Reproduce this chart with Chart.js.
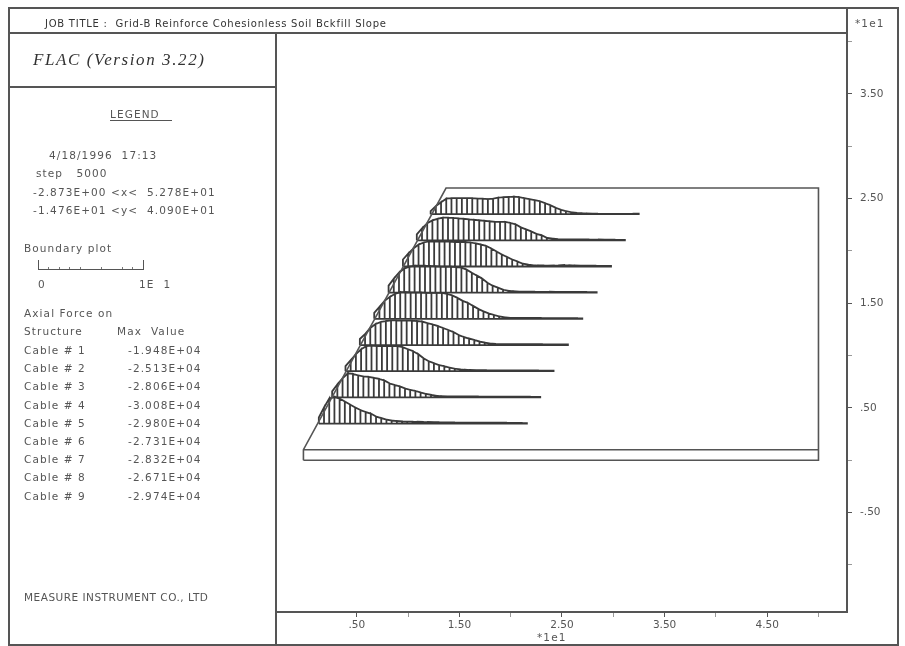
<!DOCTYPE html>
<html>
<head>
<meta charset="utf-8">
<title>FLAC axial force on cables</title>
<script src="https://cdn.jsdelivr.net/npm/chart.js@4/dist/chart.umd.min.js"></script>
<style>
    html, body { margin: 0; padding: 0; background: #fff; }
    #page { position: relative; width: 905px; height: 646px; overflow: hidden; filter: blur(0.5px); }
    #chart { position: absolute; left: 0; top: 0; }
    .rule { position: absolute; background: #555; }
    .txt {
        position: absolute; white-space: pre; color: #555;
        font: 10.5px "DejaVu Sans", sans-serif; letter-spacing: 1.1px; line-height: 12px;
    }
    #title { font-size: 10px; letter-spacing: 0.75px; color: #333; }
    #measure { letter-spacing: 0.5px; }
    #flac { font: italic 17px "Liberation Serif", serif; letter-spacing: 1.6px; color: #333; line-height: 20px; }
    #scalebar {
        position: absolute; left: 38px; top: 260px; width: 106px; height: 10px;
        border-left: 1px solid #555; border-right: 1px solid #555; border-bottom: 1px solid #555;
        box-sizing: border-box;
        background: repeating-linear-gradient(90deg, transparent 0, transparent 9.5px, #777 9.5px, #777 10.5px) 0 7px / 100% 3px no-repeat;
    }
</style>
</head>
<body>
<div id="page">
    <canvas id="chart" width="905" height="646"></canvas>
    <div class="rule" style="left:8px;top:7px;width:890px;height:2px"></div>
    <div class="rule" style="left:8px;top:7px;width:2px;height:639px"></div>
    <div class="rule" style="left:897px;top:7px;width:2px;height:639px"></div>
    <div class="rule" style="left:8px;top:644px;width:890px;height:2px"></div>
    <div class="rule" style="left:8px;top:31.5px;width:839px;height:2px"></div>
    <div class="rule" style="left:8px;top:86px;width:268px;height:2px"></div>
    <div class="rule" style="left:275px;top:32px;width:2px;height:614px"></div>
    <div class="rule" style="left:846px;top:7px;width:2px;height:26px"></div>
    <div id="scalebar"></div>
    <div id="panel"></div>
</div>

<script>
const xTickValues = [0.5, 1, 1.5, 2, 2.5, 3, 3.5, 4, 4.5, 5];
const xTickLabels = ['.50', '', '1.50', '', '2.50', '', '3.50', '', '4.50', ''];
const yTickValues = [-1, -0.5, 0, 0.5, 1, 1.5, 2, 2.5, 3, 3.5, 4];
const yTickLabels = ['', '-.50', '', '.50', '', '1.50', '', '2.50', '', '3.50', ''];

// model outline, axis units (*1e1)
const boundaryX = [-0.02, 5.0, 5.0, 1.37, -0.02, -0.02];
const boundaryY = [0, 0, 2.6, 2.6, 0.1, 0];
const layerX = [-0.02, 5.0];
const layerY = [0.1, 0.1];

// cables, top one is #1
const cableNames = ['Cable # 1', 'Cable # 2', 'Cable # 3', 'Cable # 4', 'Cable # 5', 'Cable # 6', 'Cable # 7', 'Cable # 8', 'Cable # 9'];
const cableMax = ['-1.948E+04', '-2.513E+04', '-2.806E+04', '-3.008E+04', '-2.980E+04', '-2.731E+04', '-2.832E+04', '-2.671E+04', '-2.974E+04'];
const cableY = [2.35, 2.1, 1.85, 1.6, 1.35, 1.1, 0.85, 0.6, 0.35];
const cableStartX = [1.22, 1.085, 0.95, 0.81, 0.67, 0.53, 0.39, 0.26, 0.13];
const nodeSpacing = 0.0507;
const forceScale = 0.086;   // axis units per 1E+04

// axial force at each node, 1E+04
const force1 = [.33,.89,1.33,1.72,1.78,1.78,1.78,1.78,1.78,1.72,
    1.72,1.67,1.72,1.83,1.89,1.91,1.948,1.89,1.78,1.67,
    1.56,1.44,1.22,1.0,.72,.5,.33,.22,.14,.11,
    .07,.05,.05,.04,.04,.03,.03,.03,.04,.05,.05];
const force2 = [.67,1.33,1.89,2.22,2.39,2.513,2.513,2.49,2.44,2.39,
    2.33,2.28,2.22,2.17,2.11,2.06,2.06,2.06,1.94,1.78,
    1.44,1.22,1.0,.72,.56,.28,.2,.14,.11,.11,
    .11,.1,.1,.1,.09,.09,.08,.08,.07,.06,.05];
const force3 = [.78,1.44,2.0,2.44,2.67,2.78,2.806,2.78,2.78,2.76,
    2.72,2.72,2.72,2.67,2.56,2.44,2.28,2.0,1.67,1.33,
    1.06,.78,.56,.33,.22,.14,.11,.11,.1,.11,
    .13,.16,.14,.11,.1,.1,.09,.09,.08,.08,.07];
const force4 = [.78,1.56,2.22,2.67,2.89,3.0,3.008,3.0,2.98,2.94,
    2.89,2.89,2.89,2.83,2.78,2.56,2.22,1.89,1.56,1.11,
    .78,.56,.33,.22,.16,.11,.11,.11,.11,.1,
    .1,.1,.09,.09,.09,.09,.08,.08,.08,.07,.06];
const force5 = [.67,1.33,2.0,2.44,2.78,2.98,2.98,2.94,2.94,2.94,
    2.89,2.89,2.89,2.89,2.78,2.61,2.33,2.0,1.78,1.44,
    1.11,.83,.61,.44,.28,.17,.11,.11,.11,.1,
    .1,.1,.1,.09,.09,.09,.08,.08,.07,.07,.06];
const force6 = [.67,1.22,1.89,2.33,2.56,2.67,2.731,2.731,2.72,2.72,
    2.71,2.67,2.61,2.44,2.28,2.11,1.89,1.67,1.44,1.11,
    .89,.72,.56,.39,.28,.17,.13,.11,.11,.11,
    .1,.1,.1,.09,.09,.09,.08,.08,.07,.07,.06];
const force7 = [.56,1.22,1.89,2.44,2.78,2.832,2.8,2.78,2.78,2.78,
    2.78,2.67,2.44,2.22,1.89,1.44,1.11,.89,.67,.56,
    .39,.28,.2,.16,.13,.11,.11,.11,.1,.1,
    .1,.1,.09,.09,.09,.08,.08,.08,.07,.07,.06];
const force8 = [.67,1.44,2.11,2.671,2.61,2.44,2.33,2.28,2.17,2.06,
    1.89,1.56,1.39,1.22,1.0,.83,.72,.56,.39,.28,
    .18,.13,.11,.11,.11,.1,.1,.1,.1,.09,
    .09,.09,.09,.08,.08,.08,.08,.07,.07,.06,.06];
const force9 = [.67,1.78,2.78,2.974,2.78,2.44,2.11,1.78,1.5,1.28,
    1.11,.78,.61,.44,.33,.28,.24,.22,.22,.2,
    .18,.17,.16,.15,.14,.13,.12,.11,.1,.1,
    .1,.1,.09,.09,.09,.09,.09,.08,.08,.07,.06];
const cableForces = [force1, force2, force3, force4, force5, force6, force7, force8, force9];

const legendLines = [
    ['LEGEND', 110, 108],
    ['4/18/1996  17:13', 49, 149],
    ['step   5000', 36, 167],
    ['-2.873E+00 <x<  5.278E+01', 33, 186],
    ['-1.476E+01 <y<  4.090E+01', 33, 204],
    ['Boundary plot', 24, 242],
    ['0', 38, 278],
    ['1E  1', 139, 278],
    ['Axial Force on', 24, 307],
    ['Structure', 24, 325],
    ['Max  Value', 117, 325],
    ['*1e1', 855, 17],
    ['*1e1', 537, 631],
];

function addText(text, x, y, id) {
    const el = document.createElement('div');
    el.className = 'txt';
    if ( id ) el.id = id;
    el.textContent = text;
    el.style.left = x + 'px';
    el.style.top = y + 'px';
    document.getElementById('panel').appendChild(el);
    return el;
}

addText('JOB TITLE :  Grid-B Reinforce Cohesionless Soil Bckfill Slope', 45, 18, 'title');
addText('FLAC (Version 3.22)', 33, 50, 'flac');
addText('MEASURE INSTRUMENT CO., LTD', 24, 591, 'measure');
legendLines.forEach(l => addText(l[0], l[1], l[2]));
cableNames.forEach((name, i) => {
    const y = 344 + i * 18.2;
    addText(name, 24, y);
    addText(cableMax[i], 128, y);
});
// the long underline under LEGEND
const under = document.createElement('div');
under.className = 'rule';
under.style.cssText = 'left:110px;top:120px;width:62px;height:1px';
document.getElementById('panel').appendChild(under);

// one ladder cell per node pair: post, force curve, next post, then back along the cable
function cablePoints(values, baseY, startX) {
    const pts = [];
    for ( let i = 0; i < values.length - 1; i++ ) {
        const x0 = startX + i * nodeSpacing;
        const x1 = x0 + nodeSpacing;
        pts.push({ x: x0, y: baseY });
        pts.push({ x: x0, y: baseY + values[i] * forceScale });
        pts.push({ x: x1, y: baseY + values[i + 1] * forceScale });
        pts.push({ x: x1, y: baseY });
        pts.push({ x: x0, y: baseY });
        pts.push({ x: x1, y: baseY });
    }
    return pts;
}

const pairs = (xs, ys) => xs.map((x, i) => ({ x: x, y: ys[i] }));

const datasets = [
    { label: 'Boundary', data: pairs(boundaryX, boundaryY), borderColor: '#555', borderWidth: 1.6 },
    { label: 'Layer', data: pairs(layerX, layerY), borderColor: '#555', borderWidth: 1.6 },
];
cableForces.forEach((values, i) => {
    datasets.push({
        label: cableNames[i],
        data: cablePoints(values, cableY[i], cableStartX[i]),
        borderColor: '#3a3a3a',
        borderWidth: 1.8,
    });
});

const tickShade = ctx => ( ctx.tick && ctx.tick.label ? '#555' : '#999' );

new Chart(document.getElementById('chart'), {
    type: 'line',
    data: { datasets: datasets },
    options: {
        responsive: false,
        animation: false,
        parsing: false,
        devicePixelRatio: 1,
        layout: { padding: { left: 276, top: 32, right: 0, bottom: 0 } },
        elements: {
            line: { tension: 0, fill: false },
            point: { radius: 0 },
        },
        plugins: { legend: { display: false }, tooltip: { enabled: false } },
        scales: {
            x: {
                type: 'linear',
                position: 'bottom',
                min: -0.2873,
                max: 5.278,
                afterBuildTicks: s => { s.ticks = xTickValues.map(v => ({ value: v })); },
                afterFit: s => { s.height = 34; },
                grid: { drawOnChartArea: false, tickLength: 5, tickColor: tickShade, tickWidth: 1 },
                border: { color: '#555', width: 2 },
                ticks: {
                    autoSkip: false, maxRotation: 0, padding: 2, color: '#555',
                    font: { family: 'DejaVu Sans', size: 10.5 },
                    callback: (v, i) => xTickLabels[i],
                },
            },
            y: {
                type: 'linear',
                position: 'right',
                min: -1.45,
                max: 4.09,
                afterBuildTicks: s => { s.ticks = yTickValues.map(v => ({ value: v })); },
                afterFit: s => { s.width = 58; },
                grid: { drawOnChartArea: false, tickLength: 5, tickColor: tickShade, tickWidth: 1 },
                border: { color: '#555', width: 2 },
                ticks: {
                    autoSkip: false, padding: 8, color: '#555',
                    font: { family: 'DejaVu Sans', size: 10.5 },
                    callback: (v, i) => yTickLabels[i],
                },
            },
        },
    },
});
</script>
</body>
</html>
